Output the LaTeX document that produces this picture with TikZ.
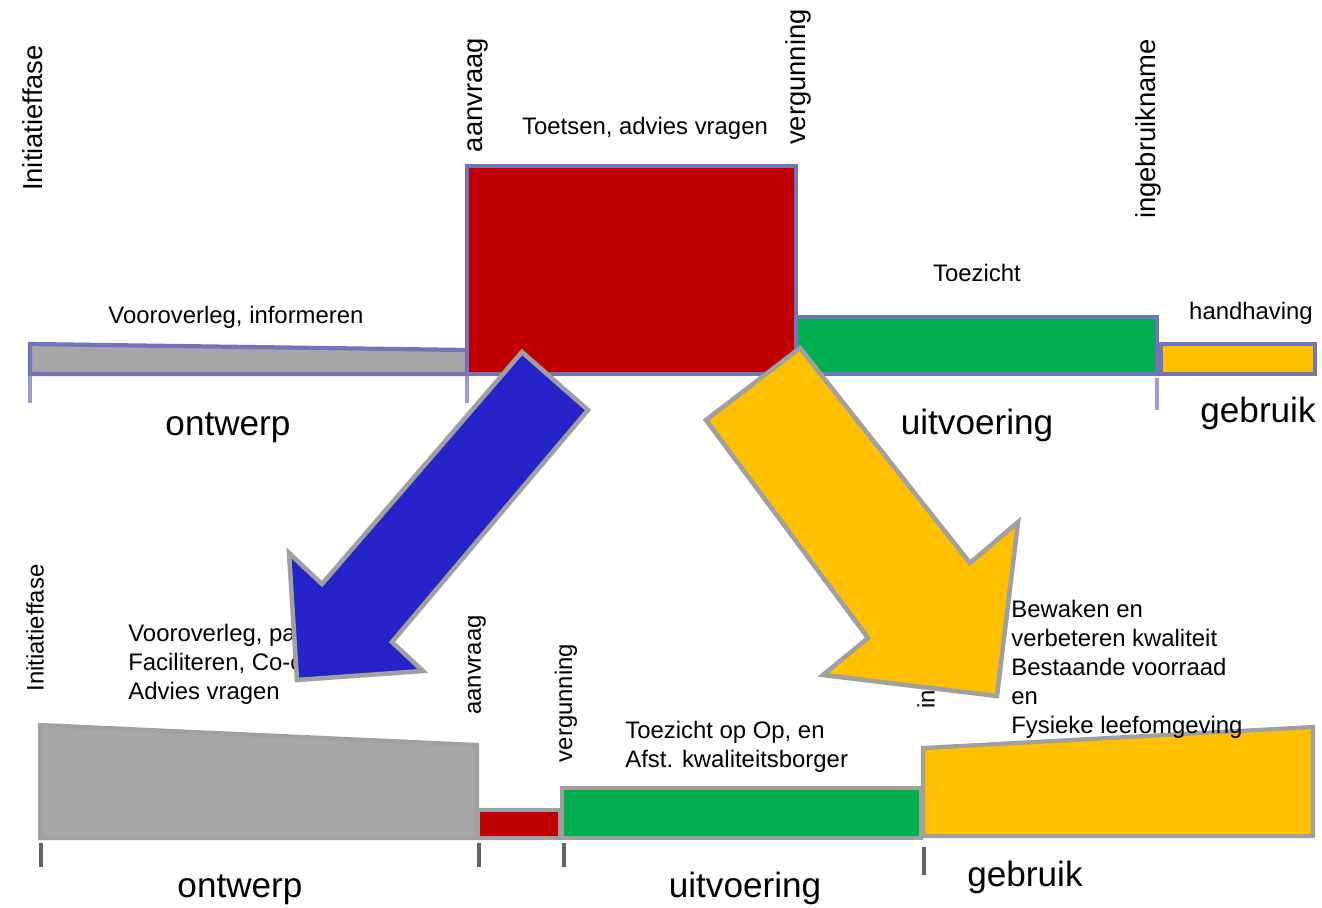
\documentclass[tikz,border=0pt]{standalone}
\usepackage{fontspec}
\setmainfont{Liberation Sans}
\definecolor{barred}{RGB}{192,0,0}
\definecolor{bargreen}{RGB}{0,176,80}
\definecolor{baryellow}{RGB}{255,192,0}
\definecolor{bargray}{RGB}{166,166,166}
\definecolor{arrowblue}{RGB}{36,36,200}
\definecolor{lineblue}{RGB}{115,115,188}
\definecolor{tickblue}{RGB}{155,155,210}
\definecolor{linegray}{RGB}{160,160,160}
\definecolor{tickgray}{RGB}{100,100,100}
\begin{document}
\begin{tikzpicture}[x=0.02cm,y=-0.02cm,
	topbar/.style={draw=lineblue,line width=2.4pt},
	botbar/.style={draw=linegray,line width=2.4pt},
	toptick/.style={draw=tickblue,line width=2.2pt},
	bottick/.style={draw=tickgray,line width=2.2pt},
	bigarrow/.style={draw=linegray,line width=2.6pt},
	lbl/.style={inner sep=0pt,font=\fontsize{13.6}{16.5}\selectfont},
	blocklbl/.style={lbl,align=left,anchor=north west},
	toplbl/.style={inner sep=0pt,rotate=90,font=\fontsize{15.6}{18}\selectfont},
	sidelbl/.style={inner sep=0pt,rotate=90,font=\fontsize{13.6}{16.5}\selectfont},
	phase/.style={inner sep=0pt,font=\fontsize{20}{24}\selectfont}]
		\useasboundingbox (0,0) rectangle (1322,907);
		% bovenste balk
		\draw[toptick] (30,374) -- (30,403);
		\draw[toptick] (467,374) -- (467,403);
		\draw[toptick] (1157,378) -- (1157,410);
		\filldraw[topbar,fill=bargray] (30,344) -- (467,350) -- (467,374) -- (30,374) -- cycle;
		\filldraw[topbar,fill=barred] (467,166) rectangle (796,374);
		\filldraw[topbar,fill=bargreen] (796,317) rectangle (1157,374);
		\filldraw[topbar,fill=baryellow] (1161,344) rectangle (1315,374);
		\node[toplbl] (init1) at (33,118) {Initiatieffase};
		\node[toplbl] (aanv1) at (478,95) {aanvraag};
		\node[toplbl] (verg1) at (798,77) {vergunning};
		\node[toplbl] (inge1) at (1148,129) {ingebruikname};
		\node[lbl] (toets) at (645,128) {Toetsen, advies vragen};
		\node[lbl] (voor1) at (236,317) {Vooroverleg, informeren};
		\node[lbl] (toez1) at (977,273) {Toezicht};
		\node[lbl] (handh) at (1251,313) {handhaving};
		\node[phase] (ontw1) at (228,428) {ontwerp};
		\node[phase] (uitv1) at (977,425) {uitvoering};
		\node[phase] (gebr1) at (1258,413) {gebruik};
		% onderste balk
		\draw[bottick] (41,843) -- (41,867);
		\draw[bottick] (479,843) -- (479,867);
		\draw[bottick] (564,843) -- (564,867);
		\draw[bottick] (924,847) -- (924,875);
		\filldraw[botbar,fill=bargray] (40,725) -- (477,745) -- (477,838) -- (40,838) -- cycle;
		\filldraw[botbar,fill=barred] (478,810) rectangle (560,838);
		\filldraw[botbar,fill=bargreen] (562,788) rectangle (921,838);
		\filldraw[botbar,fill=baryellow] (923,748) -- (1313,727) -- (1313,836) -- (923,836) -- cycle;
		\node[sidelbl] (init2) at (35,628) {Initiatieffase};
		\node[sidelbl] (aanv2) at (477,665) {aanvraag};
		\node[sidelbl] (verg2) at (566,703) {vergunning};
		\node[sidelbl,anchor=west] (inge2) at (926,709) {in};
		\node[blocklbl] (voor2) at (128,624) {Vooroverleg, pa\\Faciliteren, Co-c\\Advies vragen};
		\node[blocklbl] (toez2) at (625,721) {Toezicht op Op, en\\Afst. kwaliteitsborger};
		\node[blocklbl] (bewak) at (1011,600) {Bewaken en\\verbeteren kwaliteit\\Bestaande voorraad\\en\\Fysieke leefomgeving};
		\node[phase] (ontw2) at (240,890) {ontwerp};
		\node[phase] (uitv2) at (745,888) {uitvoering};
		\node[phase] (gebr2) at (1025,877) {gebruik};
		% pijlen
		\filldraw[bigarrow,fill=arrowblue] (522,352) -- (588,410) -- (392,642) -- (423,671) -- (297,680) -- (289,553) -- (322,584) -- cycle;
		\filldraw[bigarrow,fill=baryellow] (706,420) -- (800,348) -- (970,563) -- (1018,522) -- (997,696) -- (823,675) -- (868,638) -- cycle;
	\end{tikzpicture}
\end{document}
